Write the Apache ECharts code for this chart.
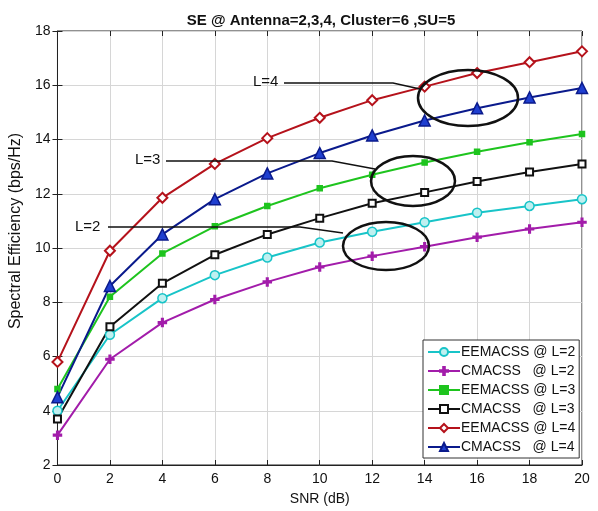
<!DOCTYPE html>
<html>
<head>
<meta charset="utf-8">
<script src="https://cdn.jsdelivr.net/npm/echarts@6/dist/echarts.min.js"></script>
<style>
html,body{margin:0;padding:0;background:#fff;}
#main{width:598px;height:511px;}
</style>
</head>
<body>
<div id="main"></div>
<script>
var snr = [0, 2, 4, 6, 8, 10, 12, 14, 16, 18, 20]

var eemacssL2 = [4.0, 6.8, 8.15, 9.0, 9.65, 10.2, 10.6, 10.95, 11.3, 11.55, 11.8]
var cmacssL2 = [3.1, 5.9, 7.25, 8.1, 8.75, 9.3, 9.7, 10.05, 10.4, 10.7, 10.95]
var eemacssL3 = [4.8, 8.2, 9.8, 10.8, 11.55, 12.2, 12.7, 13.15, 13.55, 13.9, 14.2]
var cmacssL3 = [3.7, 7.1, 8.7, 9.75, 10.5, 11.1, 11.65, 12.05, 12.45, 12.8, 13.1]
var eemacssL4 = [5.8, 9.9, 11.85, 13.1, 14.05, 14.8, 15.45, 15.95, 16.45, 16.85, 17.25]
var cmacssL4 = [4.5, 8.6, 10.5, 11.8, 12.75, 13.5, 14.15, 14.7, 15.15, 15.55, 15.9]

var seriesNames = ['EEMACSS @ L=2', 'CMACSS   @ L=2', 'EEMACSS @ L=3', 'CMACSS   @ L=3', 'EEMACSS @ L=4', 'CMACSS   @ L=4']

function pairs(ys){
    let out = []
    for(let i=0;i<snr.length;i++){
        out.push([snr[i], ys[i]])
    }
    return out
}

var plusPath = 'path://M4,0h2v4h4v2h-4v4h-2v-4h-4v-2h4z'
var font = 'Liberation Sans, Arial, sans-serif'

// fill == null -> hollow marker (white inside)
function mkSeries(name, ys, color, symbol, size, fill){
    let s = {
        name: name,
        type: 'line',
        data: pairs(ys),
        symbol: symbol,
        symbolSize: size,
        showSymbol: true,
        color: color,
        lineStyle: { color: color, width: 2, type: 'solid' },
        itemStyle: { color: color, borderColor: color, borderWidth: 1.5 },
        emphasis: { disabled: true },
        z: 3
    }
    if(fill) s.itemStyle.color = fill
    return s
}

var option = {
    animation: false,
    backgroundColor: '#fff',
    title: {
        text: 'SE @ Antenna=2,3,4, Cluster=6 ,SU=5',
        left: 316,
        textAlign: 'center',
        top: 8,
        textStyle: { fontFamily: font, fontSize: 15, fontWeight: 'bold', color: '#111' }
    },
    legend: {
        orient: 'vertical',
        left: 423,
        top: 340,
        width: 154,
        padding: [5, 4, 4, 4],
        itemGap: 5,
        itemWidth: 32,
        itemHeight: 10,
        borderColor: '#333',
        borderWidth: 1,
        backgroundColor: '#fff',
        textStyle: { fontFamily: font, fontSize: 14, color: '#111', padding: [0,0,0,-4], lineHeight: 14 },
        data: seriesNames
    },
    grid: { left: 57, right: 16, top: 31, bottom: 38, show: true, borderColor: '#222', borderWidth: 1 },
    xAxis: [{
        type: 'value',
        min: 0, max: 20, interval: 2,
        name: 'SNR (dB)',
        nameLocation: 'middle',
        nameGap: 27,
        nameTextStyle: { fontFamily: font, fontSize: 14, color: '#111' },
        axisLine: { show: true, lineStyle: { color: '#222' } },
        axisTick: { show: true, inside: true, length: 5, lineStyle: { color: '#222' } },
        axisLabel: { fontFamily: font, fontSize: 14, color: '#111', margin: 7 },
        splitLine: { show: true, lineStyle: { color: '#d6d6d6', width: 1 } }
    }, {
        type: 'value',
        position: 'top',
        min: 0, max: 20, interval: 2,
        axisLine: { show: false },
        axisTick: { show: true, inside: true, length: 5, lineStyle: { color: '#222' } },
        axisLabel: { show: false },
        splitLine: { show: false }
    }],
    yAxis: [{
        type: 'value',
        min: 2, max: 18, interval: 2,
        name: 'Spectral Efficiency (bps/Hz)',
        nameLocation: 'middle',
        nameGap: 24,
        nameTextStyle: { fontFamily: font, fontSize: 16, color: '#111', padding: [0, 0, 0, 34] },
        axisLine: { show: true, lineStyle: { color: '#222' } },
        axisTick: { show: true, inside: true, length: 5, lineStyle: { color: '#222' } },
        axisLabel: { fontFamily: font, fontSize: 14, color: '#111', margin: 7 },
        splitLine: { show: true, lineStyle: { color: '#d6d6d6', width: 1 } }
    }, {
        type: 'value',
        position: 'right',
        min: 2, max: 18, interval: 2,
        axisLine: { show: false },
        axisTick: { show: true, inside: true, length: 5, lineStyle: { color: '#222' } },
        axisLabel: { show: false },
        splitLine: { show: false }
    }],
    series: [
        mkSeries(seriesNames[0], eemacssL2, '#18c4c8', 'circle', 9, '#bff0f0'),
        mkSeries(seriesNames[1], cmacssL2, '#a21caa', plusPath, 8, null),
        mkSeries(seriesNames[2], eemacssL3, '#1ec41e', 'rect', 5, null),
        mkSeries(seriesNames[3], cmacssL3, '#111111', 'emptyRect', 7, null),
        mkSeries(seriesNames[4], eemacssL4, '#b5121b', 'emptyDiamond', 10, null),
        mkSeries(seriesNames[5], cmacssL4, '#0a1a8c', 'triangle', 11, '#1f3fd0')
    ],
    graphic: [
        // L=4 annotation
        { type: 'text', left: 253, top: 74, z: 20, style: { text: 'L=4', font: '15px ' + font, fill: '#111' } },
        { type: 'polyline', shape: { points: [[284, 83], [393, 83], [420, 89]] }, style: { stroke: '#111', lineWidth: 1.5, fill: null }, z: 10 },
        { type: 'ellipse', shape: { cx: 468, cy: 98, rx: 50, ry: 28 }, style: { stroke: '#111', lineWidth: 2.5, fill: null }, z: 10 },
        // L=3 annotation
        { type: 'text', left: 135, top: 152, z: 20, style: { text: 'L=3', font: '15px ' + font, fill: '#111' } },
        { type: 'polyline', shape: { points: [[166, 161], [332, 161], [375, 169]] }, style: { stroke: '#111', lineWidth: 1.5, fill: null }, z: 10 },
        { type: 'ellipse', shape: { cx: 413, cy: 181, rx: 42, ry: 25 }, style: { stroke: '#111', lineWidth: 2.5, fill: null }, z: 10 },
        // L=2 annotation
        { type: 'text', left: 75, top: 219, z: 20, style: { text: 'L=2', font: '15px ' + font, fill: '#111' } },
        { type: 'polyline', shape: { points: [[108, 227], [300, 227], [343, 233]] }, style: { stroke: '#111', lineWidth: 1.5, fill: null }, z: 10 },
        { type: 'ellipse', shape: { cx: 386, cy: 246, rx: 43, ry: 24 }, style: { stroke: '#111', lineWidth: 2.5, fill: null }, z: 10 }
    ]
}

var myChart = echarts.init(document.getElementById('main'))
myChart.setOption(option)
</script>
</body>
</html>
